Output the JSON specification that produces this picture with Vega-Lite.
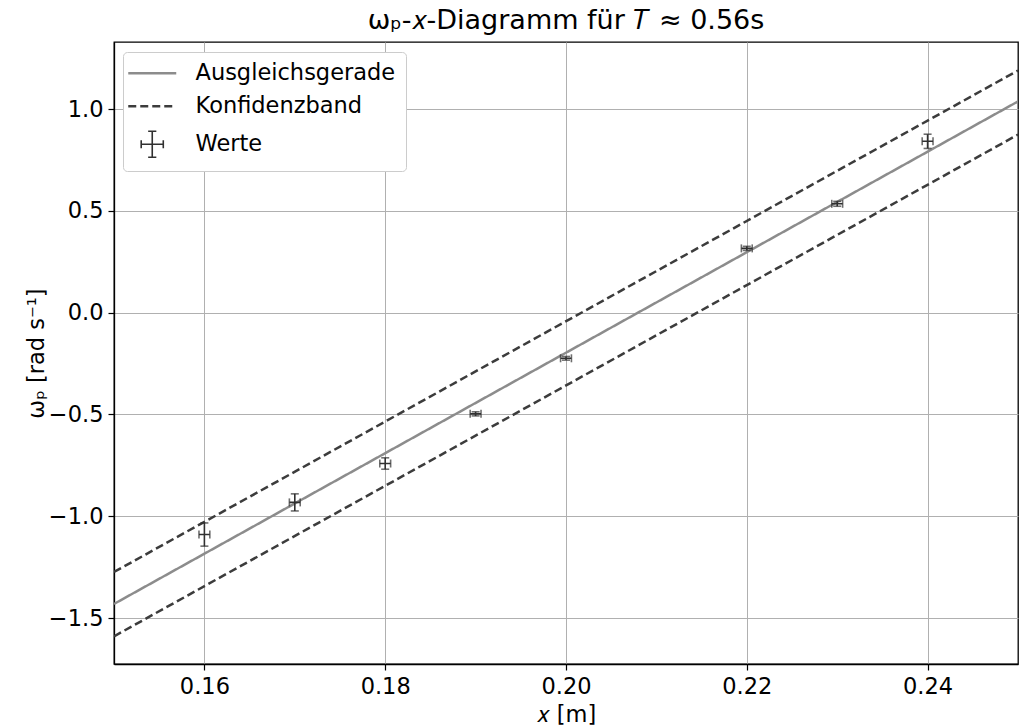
{
  "$schema": "https://vega.github.io/schema/vega-lite/v6.json",
  "width": 904,
  "height": 622,
  "autosize": {"type": "none"},
  "padding": {"left": 114, "top": 42, "right": 1, "bottom": 62},
  "background": "white",
  "title": {"text": "ωₚ-𝑥-Diagramm für 𝑇 ≈ 0.56s", "fontSize": 27, "font": "DejaVu Sans", "fontWeight": "normal", "color": "black", "offset": 7},
  "config": {
    "font": "DejaVu Sans",
    "view": {"stroke": "black", "strokeWidth": 1.3},
    "axis": {
      "labelFontSize": 22.5, "labelColor": "black", "labelFont": "DejaVu Sans",
      "tickColor": "black", "tickSize": 6, "tickWidth": 1.2,
      "domainColor": "black", "domainWidth": 1.3,
      "grid": true, "gridColor": "#b0b0b0", "gridWidth": 1,
      "titleFontSize": 22.5, "titleFontWeight": "normal", "titleColor": "black", "titleFont": "DejaVu Sans",
      "labelPadding": 5
    }
  },
  "datasets": {
    "lines": [
      {"kind": "Ausgleichsgerade", "band": "fit", "x": 0.15, "y": -1.431},
      {"kind": "Ausgleichsgerade", "band": "fit", "x": 0.25, "y": 1.038},
      {"kind": "Konfidenzband", "band": "upper", "x": 0.15, "y": -1.274},
      {"kind": "Konfidenzband", "band": "upper", "x": 0.25, "y": 1.19},
      {"kind": "Konfidenzband", "band": "lower", "x": 0.15, "y": -1.59},
      {"kind": "Konfidenzband", "band": "lower", "x": 0.25, "y": 0.875}
    ],
    "points": [
      {"kind": "Werte", "x": 0.16, "y": -1.09, "ylo": -1.147, "yhi": -1.033, "xlo": 0.1594, "xhi": 0.1606},
      {"kind": "Werte", "x": 0.17, "y": -0.932, "ylo": -0.974, "yhi": -0.89, "xlo": 0.1694, "xhi": 0.1706},
      {"kind": "Werte", "x": 0.18, "y": -0.741, "ylo": -0.769, "yhi": -0.713, "xlo": 0.1794, "xhi": 0.1806},
      {"kind": "Werte", "x": 0.19, "y": -0.497, "ylo": -0.507, "yhi": -0.487, "xlo": 0.1894, "xhi": 0.1906},
      {"kind": "Werte", "x": 0.2, "y": -0.224, "ylo": -0.233, "yhi": -0.215, "xlo": 0.1994, "xhi": 0.2006},
      {"kind": "Werte", "x": 0.22, "y": 0.316, "ylo": 0.306, "yhi": 0.326, "xlo": 0.2194, "xhi": 0.2206},
      {"kind": "Werte", "x": 0.23, "y": 0.535, "ylo": 0.523, "yhi": 0.547, "xlo": 0.2294, "xhi": 0.2306},
      {"kind": "Werte", "x": 0.24, "y": 0.842, "ylo": 0.807, "yhi": 0.877, "xlo": 0.2394, "xhi": 0.2406}
    ]
  },
  "layer": [
    {
      "data": {"name": "lines"},
      "mark": {"type": "line", "strokeWidth": 2.5, "clip": true},
      "encoding": {
        "x": {"field": "x", "type": "quantitative", "title": "𝑥 [m]",
              "scale": {"domain": [0.15, 0.25], "nice": false, "zero": false},
              "axis": {"values": [0.16, 0.18, 0.2, 0.22, 0.24], "format": ".2f", "titlePadding": 6}},
        "y": {"field": "y", "type": "quantitative", "title": "ωₚ [rad s⁻¹]",
              "scale": {"domain": [-1.726, 1.33], "nice": false, "zero": false},
              "axis": {"values": [-1.5, -1, -0.5, 0, 0.5, 1], "labelExpr": "replace(format(datum.value, '.1f'), '-', '−')", "titlePadding": 0}},
        "detail": {"field": "band"},
        "color": {"field": "kind", "type": "nominal",
                  "scale": {"domain": ["Ausgleichsgerade", "Konfidenzband", "Werte"], "range": ["#8c8c8c", "#3c3c3c", "#303030"]},
                  "legend": {"title": null, "orient": "none", "legendX": 9, "legendY": 10, "labelFontSize": 22.5, "labelColor": "black",
                             "labelLimit": 400,
                             "symbolSize": 2304, "symbolStrokeWidth": 2.5, "symbolType": "stroke", "symbolOffset": 8,
                             "fillColor": "white", "strokeColor": "#cccccc", "cornerRadius": 4, "padding": 10,
                             "rowPadding": 10, "labelOffset": 32,
                             "encode": {"symbols": {"update": {
                               "shape": {"signal": "datum.value === 'Werte' ? 'M-0.46,0H0.46M0,-0.54V0.54M-0.17,-0.54H0.17M-0.17,0.54H0.17M-0.46,-0.17V0.17M0.46,-0.17V0.17' : 'stroke'"},
                               "strokeWidth": {"signal": "datum.value === 'Werte' ? 1.6 : 2.5"}
                             }}}}},
        "strokeDash": {"field": "kind", "type": "nominal",
                       "scale": {"domain": ["Ausgleichsgerade", "Konfidenzband", "Werte"], "range": [[1, 0], [8, 4], [1, 0]]}}
      }
    },
    {
      "data": {"name": "points"},
      "mark": {"type": "rule", "strokeWidth": 1.6},
      "encoding": {
        "x": {"field": "x", "type": "quantitative", "title": "𝑥 [m]"},
        "y": {"field": "ylo", "type": "quantitative", "title": "ωₚ [rad s⁻¹]"},
        "y2": {"field": "yhi"},
        "color": {"field": "kind", "type": "nominal"},
        "strokeDash": {"field": "kind", "type": "nominal"}
      }
    },
    {
      "data": {"name": "points"},
      "mark": {"type": "rule", "strokeWidth": 1.6},
      "encoding": {
        "x": {"field": "xlo", "type": "quantitative", "title": "𝑥 [m]"},
        "x2": {"field": "xhi"},
        "y": {"field": "y", "type": "quantitative", "title": "ωₚ [rad s⁻¹]"},
        "color": {"field": "kind", "type": "nominal"},
        "strokeDash": {"field": "kind", "type": "nominal"}
      }
    },
    {
      "data": {"name": "points"},
      "mark": {"type": "tick", "orient": "horizontal", "size": 8, "thickness": 1.6},
      "encoding": {
        "x": {"field": "x", "type": "quantitative", "title": "𝑥 [m]"},
        "y": {"field": "ylo", "type": "quantitative", "title": "ωₚ [rad s⁻¹]"},
        "color": {"field": "kind", "type": "nominal"}
      }
    },
    {
      "data": {"name": "points"},
      "mark": {"type": "tick", "orient": "horizontal", "size": 8, "thickness": 1.6},
      "encoding": {
        "x": {"field": "x", "type": "quantitative", "title": "𝑥 [m]"},
        "y": {"field": "yhi", "type": "quantitative", "title": "ωₚ [rad s⁻¹]"},
        "color": {"field": "kind", "type": "nominal"}
      }
    },
    {
      "data": {"name": "points"},
      "mark": {"type": "tick", "orient": "vertical", "size": 8, "thickness": 1.6},
      "encoding": {
        "x": {"field": "xlo", "type": "quantitative", "title": "𝑥 [m]"},
        "y": {"field": "y", "type": "quantitative", "title": "ωₚ [rad s⁻¹]"},
        "color": {"field": "kind", "type": "nominal"}
      }
    },
    {
      "data": {"name": "points"},
      "mark": {"type": "tick", "orient": "vertical", "size": 8, "thickness": 1.6},
      "encoding": {
        "x": {"field": "xhi", "type": "quantitative", "title": "𝑥 [m]"},
        "y": {"field": "y", "type": "quantitative", "title": "ωₚ [rad s⁻¹]"},
        "color": {"field": "kind", "type": "nominal"}
      }
    }
  ]
}
